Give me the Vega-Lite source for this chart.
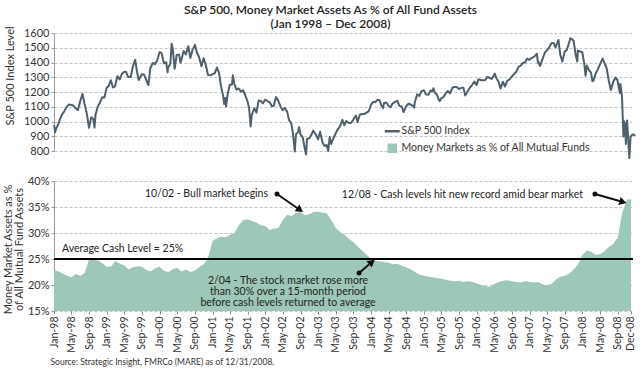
{
  "$schema": "https://vega.github.io/schema/vega-lite/v6.json",
  "autosize": {"type": "none"},
  "width": 579,
  "height": 278,
  "padding": {"left": 54, "top": 33, "right": 7, "bottom": 59},
  "background": "white",
  "title": {
    "text": ["S&P 500, Money Market Assets As % of All Fund Assets", "(Jan 1998 – Dec 2008)"],
    "font": "Lato", "fontSize": 12, "fontWeight": 600, "color": "#222",
    "anchor": "middle", "dx": -13, "offset": -5, "lineHeight": 14
  },
  "config": {
    "view": {"stroke": null},
    "font": "Lato",
    "axis": {"labelFont": "Lato", "titleFont": "Lato", "labelColor": "#333", "titleColor": "#333", "titleFontWeight": "normal"},
    "text": {"font": "Lato"}
  },
  "datasets": {
    "sp": [
      {"d":"1998-01-02","v":975},{"d":"1998-01-09","v":927},{"d":"1998-01-15","v":950},{"d":"1998-01-30","v":980},
      {"d":"1998-02-13","v":1020},{"d":"1998-02-27","v":1049},
      {"d":"1998-03-13","v":1069},{"d":"1998-03-31","v":1102},
      {"d":"1998-04-15","v":1115},{"d":"1998-04-30","v":1112},
      {"d":"1998-05-15","v":1108},{"d":"1998-05-29","v":1091},
      {"d":"1998-06-15","v":1077},{"d":"1998-06-30","v":1134},
      {"d":"1998-07-17","v":1187},{"d":"1998-07-31","v":1121},
      {"d":"1998-08-14","v":1063},{"d":"1998-08-31","v":957},
      {"d":"1998-09-15","v":1029},{"d":"1998-09-30","v":1017},
      {"d":"1998-10-08","v":959},{"d":"1998-10-15","v":1047},{"d":"1998-10-30","v":1099},
      {"d":"1998-11-13","v":1125},{"d":"1998-11-30","v":1164},
      {"d":"1998-12-15","v":1162},{"d":"1998-12-31","v":1229},
      {"d":"1999-01-15","v":1243},{"d":"1999-01-29","v":1280},
      {"d":"1999-02-12","v":1231},{"d":"1999-02-26","v":1238},
      {"d":"1999-03-15","v":1307},{"d":"1999-03-31","v":1286},
      {"d":"1999-04-15","v":1323},{"d":"1999-04-30","v":1335},
      {"d":"1999-05-14","v":1337},{"d":"1999-05-28","v":1302},
      {"d":"1999-06-15","v":1302},{"d":"1999-06-30","v":1373},
      {"d":"1999-07-16","v":1418},{"d":"1999-07-30","v":1329},
      {"d":"1999-08-10","v":1281},{"d":"1999-08-31","v":1320},
      {"d":"1999-09-15","v":1318},{"d":"1999-09-30","v":1283},
      {"d":"1999-10-15","v":1247},{"d":"1999-10-29","v":1363},
      {"d":"1999-11-15","v":1397},{"d":"1999-11-30","v":1389},
      {"d":"1999-12-15","v":1413},{"d":"1999-12-31","v":1469},
      {"d":"2000-01-14","v":1465},{"d":"2000-01-31","v":1394},
      {"d":"2000-02-15","v":1402},{"d":"2000-02-25","v":1333},{"d":"2000-02-29","v":1366},
      {"d":"2000-03-15","v":1392},{"d":"2000-03-24","v":1527},{"d":"2000-03-31","v":1499},
      {"d":"2000-04-14","v":1357},{"d":"2000-04-28","v":1452},
      {"d":"2000-05-15","v":1452},{"d":"2000-05-24","v":1399},{"d":"2000-05-31","v":1421},
      {"d":"2000-06-15","v":1478},{"d":"2000-06-30","v":1455},
      {"d":"2000-07-17","v":1510},{"d":"2000-07-31","v":1431},
      {"d":"2000-08-15","v":1484},{"d":"2000-08-31","v":1518},
      {"d":"2000-09-01","v":1520},{"d":"2000-09-15","v":1466},{"d":"2000-09-29","v":1437},
      {"d":"2000-10-16","v":1374},{"d":"2000-10-31","v":1429},
      {"d":"2000-11-15","v":1383},{"d":"2000-11-30","v":1315},
      {"d":"2000-12-15","v":1313},{"d":"2000-12-29","v":1320},
      {"d":"2001-01-15","v":1326},{"d":"2001-01-31","v":1366},
      {"d":"2001-02-15","v":1326},{"d":"2001-02-28","v":1240},
      {"d":"2001-03-15","v":1173},{"d":"2001-03-22","v":1118},{"d":"2001-03-30","v":1160},
      {"d":"2001-04-04","v":1103},{"d":"2001-04-16","v":1192},{"d":"2001-04-30","v":1249},
      {"d":"2001-05-15","v":1250},{"d":"2001-05-21","v":1313},{"d":"2001-05-31","v":1256},
      {"d":"2001-06-15","v":1215},{"d":"2001-06-29","v":1224},
      {"d":"2001-07-16","v":1203},{"d":"2001-07-31","v":1211},
      {"d":"2001-08-15","v":1178},{"d":"2001-08-31","v":1134},
      {"d":"2001-09-10","v":1092},{"d":"2001-09-21","v":966},{"d":"2001-09-28","v":1041},
      {"d":"2001-10-15","v":1090},{"d":"2001-10-31","v":1060},
      {"d":"2001-11-15","v":1142},{"d":"2001-11-30","v":1139},
      {"d":"2001-12-14","v":1123},{"d":"2001-12-31","v":1148},
      {"d":"2002-01-15","v":1139},{"d":"2002-01-31","v":1130},
      {"d":"2002-02-15","v":1104},{"d":"2002-02-28","v":1107},
      {"d":"2002-03-15","v":1166},{"d":"2002-03-28","v":1147},
      {"d":"2002-04-15","v":1102},{"d":"2002-04-30","v":1077},
      {"d":"2002-05-15","v":1092},{"d":"2002-05-31","v":1067},
      {"d":"2002-06-14","v":1007},{"d":"2002-06-28","v":990},
      {"d":"2002-07-10","v":920},{"d":"2002-07-23","v":797},{"d":"2002-07-31","v":912},
      {"d":"2002-08-15","v":930},{"d":"2002-08-22","v":962},{"d":"2002-08-30","v":916},
      {"d":"2002-09-16","v":892},{"d":"2002-09-30","v":815},
      {"d":"2002-10-09","v":776},{"d":"2002-10-15","v":881},{"d":"2002-10-31","v":886},
      {"d":"2002-11-15","v":910},{"d":"2002-11-27","v":938},
      {"d":"2002-12-16","v":910},{"d":"2002-12-31","v":880},
      {"d":"2003-01-14","v":931},{"d":"2003-01-31","v":856},
      {"d":"2003-02-14","v":834},{"d":"2003-02-28","v":841},
      {"d":"2003-03-11","v":800},{"d":"2003-03-21","v":895},{"d":"2003-03-31","v":848},
      {"d":"2003-04-15","v":885},{"d":"2003-04-30","v":917},
      {"d":"2003-05-15","v":946},{"d":"2003-05-30","v":964},
      {"d":"2003-06-17","v":1011},{"d":"2003-06-30","v":975},
      {"d":"2003-07-14","v":1003},{"d":"2003-07-31","v":990},
      {"d":"2003-08-15","v":990},{"d":"2003-08-29","v":1008},
      {"d":"2003-09-18","v":1040},{"d":"2003-09-30","v":996},
      {"d":"2003-10-15","v":1046},{"d":"2003-10-31","v":1051},
      {"d":"2003-11-14","v":1050},{"d":"2003-11-28","v":1058},
      {"d":"2003-12-15","v":1068},{"d":"2003-12-31","v":1112},
      {"d":"2004-01-15","v":1133},{"d":"2004-01-30","v":1131},
      {"d":"2004-02-13","v":1146},{"d":"2004-02-27","v":1145},
      {"d":"2004-03-15","v":1105},{"d":"2004-03-24","v":1091},{"d":"2004-03-31","v":1126},
      {"d":"2004-04-15","v":1129},{"d":"2004-04-30","v":1107},
      {"d":"2004-05-14","v":1096},{"d":"2004-05-28","v":1121},
      {"d":"2004-06-15","v":1133},{"d":"2004-06-30","v":1141},
      {"d":"2004-07-15","v":1106},{"d":"2004-07-30","v":1102},
      {"d":"2004-08-13","v":1064},{"d":"2004-08-31","v":1104},
      {"d":"2004-09-15","v":1120},{"d":"2004-09-30","v":1115},
      {"d":"2004-10-15","v":1108},{"d":"2004-10-25","v":1094},{"d":"2004-10-29","v":1130},
      {"d":"2004-11-15","v":1184},{"d":"2004-11-30","v":1174},
      {"d":"2004-12-15","v":1206},{"d":"2004-12-31","v":1212},
      {"d":"2005-01-14","v":1184},{"d":"2005-01-31","v":1181},
      {"d":"2005-02-15","v":1210},{"d":"2005-02-28","v":1204},
      {"d":"2005-03-07","v":1225},{"d":"2005-03-15","v":1198},{"d":"2005-03-31","v":1181},
      {"d":"2005-04-15","v":1143},{"d":"2005-04-20","v":1138},{"d":"2005-04-29","v":1157},
      {"d":"2005-05-16","v":1166},{"d":"2005-05-31","v":1192},
      {"d":"2005-06-15","v":1207},{"d":"2005-06-30","v":1191},
      {"d":"2005-07-15","v":1228},{"d":"2005-07-29","v":1234},
      {"d":"2005-08-15","v":1234},{"d":"2005-08-31","v":1220},
      {"d":"2005-09-15","v":1228},{"d":"2005-09-30","v":1229},
      {"d":"2005-10-13","v":1177},{"d":"2005-10-31","v":1207},
      {"d":"2005-11-15","v":1231},{"d":"2005-11-30","v":1249},
      {"d":"2005-12-15","v":1270},{"d":"2005-12-30","v":1248},
      {"d":"2006-01-13","v":1287},{"d":"2006-01-31","v":1280},
      {"d":"2006-02-15","v":1280},{"d":"2006-02-28","v":1281},
      {"d":"2006-03-15","v":1303},{"d":"2006-03-31","v":1295},
      {"d":"2006-04-13","v":1289},{"d":"2006-04-28","v":1311},
      {"d":"2006-05-05","v":1325},{"d":"2006-05-15","v":1295},{"d":"2006-05-31","v":1270},
      {"d":"2006-06-13","v":1223},{"d":"2006-06-30","v":1270},
      {"d":"2006-07-14","v":1237},{"d":"2006-07-31","v":1277},
      {"d":"2006-08-15","v":1285},{"d":"2006-08-31","v":1304},
      {"d":"2006-09-15","v":1322},{"d":"2006-09-29","v":1336},
      {"d":"2006-10-16","v":1370},{"d":"2006-10-31","v":1378},
      {"d":"2006-11-15","v":1397},{"d":"2006-11-30","v":1401},
      {"d":"2006-12-15","v":1427},{"d":"2006-12-29","v":1418},
      {"d":"2007-01-16","v":1431},{"d":"2007-01-31","v":1438},
      {"d":"2007-02-20","v":1459},{"d":"2007-02-27","v":1399},{"d":"2007-02-28","v":1407},
      {"d":"2007-03-14","v":1377},{"d":"2007-03-30","v":1421},
      {"d":"2007-04-16","v":1468},{"d":"2007-04-30","v":1482},
      {"d":"2007-05-15","v":1501},{"d":"2007-05-31","v":1531},
      {"d":"2007-06-15","v":1533},{"d":"2007-06-29","v":1503},
      {"d":"2007-07-19","v":1553},{"d":"2007-07-31","v":1455},
      {"d":"2007-08-15","v":1406},{"d":"2007-08-31","v":1474},
      {"d":"2007-09-14","v":1484},{"d":"2007-09-28","v":1527},
      {"d":"2007-10-09","v":1565},{"d":"2007-10-31","v":1549},
      {"d":"2007-11-15","v":1451},{"d":"2007-11-26","v":1407},{"d":"2007-11-30","v":1481},
      {"d":"2007-12-11","v":1477},{"d":"2007-12-31","v":1468},
      {"d":"2008-01-15","v":1380},{"d":"2008-01-22","v":1310},{"d":"2008-01-31","v":1379},
      {"d":"2008-02-15","v":1349},{"d":"2008-02-29","v":1331},
      {"d":"2008-03-10","v":1273},{"d":"2008-03-17","v":1277},{"d":"2008-03-31","v":1323},
      {"d":"2008-04-15","v":1351},{"d":"2008-04-30","v":1386},
      {"d":"2008-05-19","v":1427},{"d":"2008-05-30","v":1400},
      {"d":"2008-06-16","v":1361},{"d":"2008-06-30","v":1280},
      {"d":"2008-07-15","v":1214},{"d":"2008-07-31","v":1267},
      {"d":"2008-08-15","v":1298},{"d":"2008-08-29","v":1283},
      {"d":"2008-09-15","v":1193},{"d":"2008-09-19","v":1255},{"d":"2008-09-30","v":1166},
      {"d":"2008-10-10","v":899},{"d":"2008-10-13","v":1003},{"d":"2008-10-20","v":986},{"d":"2008-10-27","v":848},{"d":"2008-10-31","v":969},
      {"d":"2008-11-04","v":1006},{"d":"2008-11-20","v":752},{"d":"2008-11-28","v":896},
      {"d":"2008-12-08","v":909},{"d":"2008-12-16","v":913},{"d":"2008-12-31","v":903}
    ],
    "mm": [
      {"d":"1998-01-01","v":22.9},{"d":"1998-02-01","v":22.6},{"d":"1998-03-01","v":22.2},{"d":"1998-04-01","v":21.8},{"d":"1998-05-01","v":21.5},{"d":"1998-06-01","v":22.1},{"d":"1998-07-01","v":21.8},{"d":"1998-08-01","v":22.3},{"d":"1998-09-01","v":25.0},{"d":"1998-10-01","v":25.0},{"d":"1998-11-01","v":24.7},{"d":"1998-12-01","v":24.2},
      {"d":"1999-01-01","v":23.5},{"d":"1999-02-01","v":23.6},{"d":"1999-03-01","v":24.6},{"d":"1999-04-01","v":24.1},{"d":"1999-05-01","v":23.8},{"d":"1999-06-01","v":23.0},{"d":"1999-07-01","v":23.4},{"d":"1999-08-01","v":23.6},{"d":"1999-09-01","v":23.5},{"d":"1999-10-01","v":22.9},{"d":"1999-11-01","v":22.6},{"d":"1999-12-01","v":23.2},
      {"d":"2000-01-01","v":23.5},{"d":"2000-02-01","v":22.7},{"d":"2000-03-01","v":22.5},{"d":"2000-04-01","v":23.1},{"d":"2000-05-01","v":23.3},{"d":"2000-06-01","v":22.6},{"d":"2000-07-01","v":23.0},{"d":"2000-08-01","v":22.5},{"d":"2000-09-01","v":22.8},{"d":"2000-10-01","v":23.5},{"d":"2000-11-01","v":24.0},{"d":"2000-12-01","v":25.3},
      {"d":"2001-01-01","v":28.5},{"d":"2001-02-01","v":29.0},{"d":"2001-03-01","v":29.3},{"d":"2001-04-01","v":29.2},{"d":"2001-05-01","v":29.6},{"d":"2001-06-01","v":30.0},{"d":"2001-07-01","v":31.5},{"d":"2001-08-01","v":32.5},{"d":"2001-09-01","v":32.6},{"d":"2001-10-01","v":32.3},{"d":"2001-11-01","v":32.0},{"d":"2001-12-01","v":31.5},
      {"d":"2002-01-01","v":31.3},{"d":"2002-02-01","v":30.6},{"d":"2002-03-01","v":30.8},{"d":"2002-04-01","v":31.0},{"d":"2002-05-01","v":32.5},{"d":"2002-06-01","v":33.5},{"d":"2002-07-01","v":33.2},{"d":"2002-08-01","v":33.9},{"d":"2002-09-01","v":34.0},{"d":"2002-10-01","v":33.4},{"d":"2002-11-01","v":33.6},{"d":"2002-12-01","v":34.1},
      {"d":"2003-01-01","v":34.1},{"d":"2003-02-01","v":33.9},{"d":"2003-03-01","v":33.8},{"d":"2003-04-01","v":32.5},{"d":"2003-05-01","v":31.0},{"d":"2003-06-01","v":30.2},{"d":"2003-07-01","v":29.7},{"d":"2003-08-01","v":28.9},{"d":"2003-09-01","v":28.2},{"d":"2003-10-01","v":27.4},{"d":"2003-11-01","v":26.6},{"d":"2003-12-01","v":25.8},
      {"d":"2004-01-01","v":25.0},{"d":"2004-02-01","v":24.7},{"d":"2004-03-01","v":24.5},{"d":"2004-04-01","v":24.4},{"d":"2004-05-01","v":24.3},{"d":"2004-06-01","v":24.0},{"d":"2004-07-01","v":24.1},{"d":"2004-08-01","v":23.7},{"d":"2004-09-01","v":23.4},{"d":"2004-10-01","v":23.0},{"d":"2004-11-01","v":22.5},{"d":"2004-12-01","v":22.0},
      {"d":"2005-01-01","v":21.8},{"d":"2005-02-01","v":21.6},{"d":"2005-03-01","v":21.5},{"d":"2005-04-01","v":21.3},{"d":"2005-05-01","v":21.2},{"d":"2005-06-01","v":21.0},{"d":"2005-07-01","v":20.8},{"d":"2005-08-01","v":20.7},{"d":"2005-09-01","v":20.8},{"d":"2005-10-01","v":20.6},{"d":"2005-11-01","v":20.7},{"d":"2005-12-01","v":20.6},
      {"d":"2006-01-01","v":20.3},{"d":"2006-02-01","v":20.0},{"d":"2006-03-01","v":19.8},{"d":"2006-04-01","v":19.6},{"d":"2006-05-01","v":20.2},{"d":"2006-06-01","v":20.6},{"d":"2006-07-01","v":20.8},{"d":"2006-08-01","v":20.9},{"d":"2006-09-01","v":20.7},{"d":"2006-10-01","v":20.6},{"d":"2006-11-01","v":20.5},{"d":"2006-12-01","v":20.7},
      {"d":"2007-01-01","v":20.6},{"d":"2007-02-01","v":20.5},{"d":"2007-03-01","v":20.6},{"d":"2007-04-01","v":20.1},{"d":"2007-05-01","v":20.0},{"d":"2007-06-01","v":20.2},{"d":"2007-07-01","v":21.0},{"d":"2007-08-01","v":21.6},{"d":"2007-09-01","v":21.8},{"d":"2007-10-01","v":22.2},{"d":"2007-11-01","v":23.0},{"d":"2007-12-01","v":24.0},
      {"d":"2008-01-01","v":25.8},{"d":"2008-02-01","v":26.7},{"d":"2008-03-01","v":26.4},{"d":"2008-04-01","v":25.8},{"d":"2008-05-01","v":25.9},{"d":"2008-06-01","v":26.5},{"d":"2008-07-01","v":27.3},{"d":"2008-08-01","v":27.9},{"d":"2008-09-01","v":29.2},{"d":"2008-10-01","v":33.8},{"d":"2008-11-01","v":36.4},{"d":"2008-12-01","v":36.5}
    ]
  },
  "resolve": {"scale": {"y": "independent"}, "axis": {"y": "independent", "x": "independent"}},
  "layer": [
    {
      "data": {"name": "mm"},
      "mark": {"type": "area", "color": "#9dc8b8", "opacity": 1},
      "encoding": {
        "x": {"field": "d", "type": "temporal", "scale": {"domain": [{"year":1998,"month":1,"date":1},{"year":2008,"month":12,"date":15}]},
          "axis": {"orient": "bottom", "values": [
            {"year":1998,"month":1,"date":1},{"year":1998,"month":5,"date":1},{"year":1998,"month":9,"date":1},
            {"year":1999,"month":1,"date":1},{"year":1999,"month":5,"date":1},{"year":1999,"month":9,"date":1},
            {"year":2000,"month":1,"date":1},{"year":2000,"month":5,"date":1},{"year":2000,"month":9,"date":1},
            {"year":2001,"month":1,"date":1},{"year":2001,"month":5,"date":1},{"year":2001,"month":9,"date":1},
            {"year":2002,"month":1,"date":1},{"year":2002,"month":5,"date":1},{"year":2002,"month":9,"date":1},
            {"year":2003,"month":1,"date":1},{"year":2003,"month":5,"date":1},{"year":2003,"month":9,"date":1},
            {"year":2004,"month":1,"date":1},{"year":2004,"month":5,"date":1},{"year":2004,"month":9,"date":1},
            {"year":2005,"month":1,"date":1},{"year":2005,"month":5,"date":1},{"year":2005,"month":9,"date":1},
            {"year":2006,"month":1,"date":1},{"year":2006,"month":5,"date":1},{"year":2006,"month":9,"date":1},
            {"year":2007,"month":1,"date":1},{"year":2007,"month":5,"date":1},{"year":2007,"month":9,"date":1},
            {"year":2008,"month":1,"date":1},{"year":2008,"month":5,"date":1},{"year":2008,"month":9,"date":1},
            {"year":2008,"month":12,"date":1}],
            "format": "%b-%y", "labelAngle": -90, "labelFontSize": 10.5, "labelPadding": 2, "tickSize": 3, "tickColor": "#888",
            "domain": false, "grid": false, "labelOverlap": false, "labelFlush": false, "labelBound": false,
            "title": "Source: Strategic Insight, FMRCo (MARE) as of 12/31/2008.", "titleX": -4, "titleY": 50,
            "titleAlign": "left", "titleBaseline": "middle", "titleFontSize": 8.5}},
        "y": {"field": "v", "type": "quantitative",
          "scale": {"domain": [15, 40], "range": [278, 148], "nice": false, "zero": false},
          "axis": {"orient": "left", "values": [15,20,25,30,35,40], "labelExpr": "datum.value + '%'",
            "title": ["Money Market Assets as %", "of All Mutual Fund Assets"], "titleX": -45.5, "titleY": 216, "titleAngle": -90,
            "titleAlign": "center", "titleBaseline": "middle", "titleFontSize": 11, "titleLineHeight": 11,
            "grid": true, "gridDash": [3, 2], "gridColor": "#c4c4c4", "domainColor": "#999", "tickColor": "#999", "tickSize": 3, "labelPadding": 2, "labelFontSize": 11}},
        "y2": {"datum": 15}
      }
    },
    {
      "data": {"name": "sp"},
      "mark": {"type": "line", "strokeWidth": 2, "strokeJoin": "round"},
      "encoding": {
        "x": {"field": "d", "type": "temporal", "scale": {"domain": [{"year":1998,"month":1,"date":1},{"year":2008,"month":12,"date":15}]}, "axis": null},
        "y": {"field": "v", "type": "quantitative",
          "scale": {"domain": [800, 1600], "range": [118, 0], "nice": false, "zero": false},
          "axis": {"orient": "left", "values": [800,900,1000,1100,1200,1300,1400,1500,1600], "format": "d",
            "title": "S&P 500 Index Level", "titleX": -44, "titleY": 42.5, "titleAngle": -90, "titleAlign": "center", "titleBaseline": "middle", "titleFontSize": 11,
            "grid": true, "gridDash": [3, 2], "gridColor": "#c4c4c4", "domainColor": "#999", "tickColor": "#999", "tickSize": 3, "labelPadding": 2, "labelFontSize": 11}},
        "color": {"datum": "S&P 500 Index", "type": "nominal",
          "scale": {"domain": ["S&P 500 Index", "Money Markets as % of All Mutual Funds"], "range": ["#4e606b", "#9dc8b8"]},
          "legend": {"orient": "none", "legendX": 333, "legendY": 93, "title": null, "padding": 0, "labelLimit": 400,
            "symbolType": "stroke", "symbolSize": 225, "symbolStrokeWidth": 2.5,
            "labelFont": "Lato", "labelFontSize": 10.5, "labelColor": "#333", "rowPadding": 2, "labelOffset": 4,
            "encode": {"symbols": {"update": {
              "shape": {"signal": "datum.value === 'S&P 500 Index' ? 'stroke' : 'square'"},
              "size": {"signal": "datum.value === 'S&P 500 Index' ? 225 : 50"},
              "fill": {"signal": "datum.value === 'S&P 500 Index' ? 'transparent' : '#9dc8b8'"},
              "stroke": {"signal": "datum.value === 'S&P 500 Index' ? '#4e606b' : 'transparent'"}
            }}}}}
      }
    },
    {
      "data": {"values": [{}]},
      "mark": {"type": "rule", "color": "#000", "strokeWidth": 2},
      "encoding": {"y": {"datum": 25, "type": "quantitative", "scale": {"domain": [15, 40], "range": [278, 148], "nice": false, "zero": false}, "axis": null}}
    },
    {
      "data": {"values": [{}]},
      "mark": {"type": "text", "text": "Average Cash Level = 25%", "align": "left", "baseline": "middle", "fontSize": 10.5, "color": "#222"},
      "encoding": {
        "x": {"datum": {"year":1998,"month":2,"date":25}, "type": "temporal", "axis": null},
        "y": {"datum": 26.9, "type": "quantitative", "scale": {"domain": [15, 40], "range": [278, 148], "nice": false, "zero": false}, "axis": null}}
    },
    {
      "data": {"values": [{}]},
      "mark": {"type": "text", "text": "10/02 - Bull market begins", "align": "right", "baseline": "middle", "fontSize": 10.5, "color": "#222"},
      "encoding": {
        "x": {"datum": {"year":2002,"month":1,"date":19}, "type": "temporal", "axis": null},
        "y": {"datum": 37.5, "type": "quantitative", "scale": {"domain": [15, 40], "range": [278, 148], "nice": false, "zero": false}, "axis": null}}
    },
    {
      "data": {"values": [{}]},
      "mark": {"type": "text", "text": "12/08 - Cash levels hit new record amid bear market", "align": "right", "baseline": "middle", "fontSize": 10.5, "color": "#222"},
      "encoding": {
        "x": {"datum": {"year":2008,"month":1,"date":4}, "type": "temporal", "axis": null},
        "y": {"datum": 37.3, "type": "quantitative", "scale": {"domain": [15, 40], "range": [278, 148], "nice": false, "zero": false}, "axis": null}}
    },
    {
      "data": {"values": [{}]},
      "mark": {"type": "text", "text": ["2/04 - The stock market rose more", "than 30% over a 15-month period", "before cash levels returned to average"], "align": "center", "baseline": "top", "lineHeight": 11, "fontSize": 10.5, "color": "#222"},
      "encoding": {
        "x": {"datum": {"year":2002,"month":6,"date":6}, "type": "temporal", "axis": null},
        "y": {"datum": 21.73, "type": "quantitative", "scale": {"domain": [15, 40], "range": [278, 148], "nice": false, "zero": false}, "axis": null}}
    },
    {
      "data": {"values": [{}]},
      "mark": {"type": "rule", "color": "#111", "strokeWidth": 2},
      "encoding": {
        "x": {"datum": {"year":2002,"month":3,"date":22}, "type": "temporal", "axis": null},
        "y": {"datum": 37.5, "type": "quantitative", "scale": {"domain": [15, 40], "range": [278, 148], "nice": false, "zero": false}, "axis": null},
        "x2": {"datum": {"year":2002,"month":8,"date":28}},
        "y2": {"datum": 34.42}}
    },
    {
      "data": {"values": [{}]},
      "mark": {"type": "rule", "color": "#111", "strokeWidth": 2},
      "encoding": {
        "x": {"datum": {"year":2008,"month":3,"date":27}, "type": "temporal", "axis": null},
        "y": {"datum": 37.5, "type": "quantitative", "scale": {"domain": [15, 40], "range": [278, 148], "nice": false, "zero": false}, "axis": null},
        "x2": {"datum": {"year":2008,"month":10,"date":7}},
        "y2": {"datum": 35.96}}
    },
    {
      "data": {"values": [{}]},
      "mark": {"type": "rule", "color": "#111", "strokeWidth": 2},
      "encoding": {
        "x": {"datum": {"year":2003,"month":10,"date":10}, "type": "temporal", "axis": null},
        "y": {"datum": 22.31, "type": "quantitative", "scale": {"domain": [15, 40], "range": [278, 148], "nice": false, "zero": false}, "axis": null},
        "x2": {"datum": {"year":2004,"month":1,"date":7}},
        "y2": {"datum": 24.42}}
    },
    {
      "data": {"values": [{}]},
      "mark": {"type": "point", "shape": "circle", "filled": true, "size": 25, "color": "#111", "opacity": 1},
      "encoding": {
        "x": {"datum": {"year":2002,"month":3,"date":22}, "type": "temporal", "axis": null},
        "y": {"datum": 37.5, "type": "quantitative", "scale": {"domain": [15, 40], "range": [278, 148], "nice": false, "zero": false}, "axis": null}}
    },
    {
      "data": {"values": [{}]},
      "mark": {"type": "point", "shape": "circle", "filled": true, "size": 25, "color": "#111", "opacity": 1},
      "encoding": {
        "x": {"datum": {"year":2008,"month":3,"date":27}, "type": "temporal", "axis": null},
        "y": {"datum": 37.5, "type": "quantitative", "scale": {"domain": [15, 40], "range": [278, 148], "nice": false, "zero": false}, "axis": null}}
    },
    {
      "data": {"values": [{}]},
      "mark": {"type": "point", "shape": "circle", "filled": true, "size": 25, "color": "#111", "opacity": 1},
      "encoding": {
        "x": {"datum": {"year":2003,"month":10,"date":10}, "type": "temporal", "axis": null},
        "y": {"datum": 22.31, "type": "quantitative", "scale": {"domain": [15, 40], "range": [278, 148], "nice": false, "zero": false}, "axis": null}}
    },
    {
      "data": {"values": [{}]},
      "mark": {"type": "point", "shape": "triangle-up", "filled": true, "size": 70, "angle": 125, "color": "#111", "opacity": 1},
      "encoding": {
        "x": {"datum": {"year":2002,"month":8,"date":28}, "type": "temporal", "axis": null},
        "y": {"datum": 34.42, "type": "quantitative", "scale": {"domain": [15, 40], "range": [278, 148], "nice": false, "zero": false}, "axis": null}}
    },
    {
      "data": {"values": [{}]},
      "mark": {"type": "point", "shape": "triangle-up", "filled": true, "size": 70, "angle": 106, "color": "#111", "opacity": 1},
      "encoding": {
        "x": {"datum": {"year":2008,"month":10,"date":7}, "type": "temporal", "axis": null},
        "y": {"datum": 35.96, "type": "quantitative", "scale": {"domain": [15, 40], "range": [278, 148], "nice": false, "zero": false}, "axis": null}}
    },
    {
      "data": {"values": [{}]},
      "mark": {"type": "point", "shape": "triangle-up", "filled": true, "size": 70, "angle": 50, "color": "#111", "opacity": 1},
      "encoding": {
        "x": {"datum": {"year":2004,"month":1,"date":7}, "type": "temporal", "axis": null},
        "y": {"datum": 24.42, "type": "quantitative", "scale": {"domain": [15, 40], "range": [278, 148], "nice": false, "zero": false}, "axis": null}}
    }
  ]
}
